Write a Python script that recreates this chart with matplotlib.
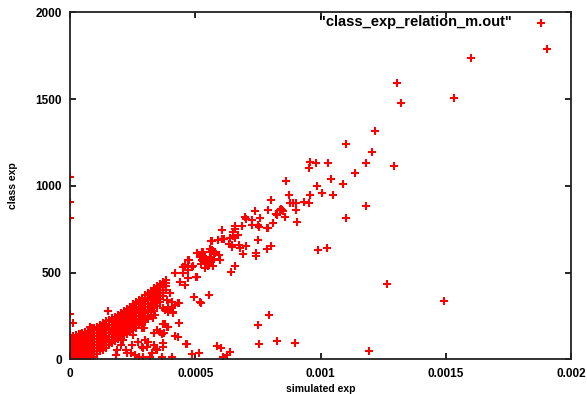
import matplotlib
matplotlib.use('Agg')
import matplotlib.pyplot as plt
import numpy as np

# simulated exp is stored in units of 1e-6
# dense band near the origin, one entry per column: (simulated exp, [class exp ...])
band_columns = [
    (0, [3, 20, 37, 55, 72, 89, 106, 123, 140]),
    (12, [10, 28, 46, 63, 80, 98, 115, 132]),
    (24, [2, 19, 36, 54, 71, 88, 105, 122, 140]),
    (36, [11, 28, 45, 62, 80, 97, 114, 131, 146]),
    (48, [3, 20, 37, 54, 72, 89, 106, 123, 140, 150]),
    (60, [10, 27, 45, 62, 79, 96, 114, 131, 148, 158]),
    (72, [2, 19, 36, 54, 71, 88, 105, 122, 140, 157, 165]),
    (84, [9, 26, 43, 61, 78, 95, 112, 130, 147, 164, 172]),
    (96, [16, 33, 50, 68, 85, 102, 119, 137, 154, 171, 180]),
    (108, [30, 47, 64, 81, 99, 116, 133, 150, 168, 186]),
    (120, [45, 62, 79, 96, 114, 131, 148, 165, 183, 198]),
    (132, [55, 72, 89, 107, 124, 141, 158, 176, 193, 208]),
    (144, [66, 83, 100, 117, 135, 152, 169, 186, 203, 218]),
    (156, [80, 97, 114, 131, 149, 166, 183, 200, 218, 228]),
    (168, [95, 112, 129, 147, 164, 181, 198, 216, 236]),
    (180, [108, 125, 142, 160, 177, 194, 211, 229, 246]),
    (192, [118, 135, 152, 170, 187, 204, 221, 239, 256]),
    (204, [128, 145, 163, 180, 197, 214, 232, 249, 268]),
    (216, [138, 155, 172, 190, 207, 224, 241, 259, 280]),
    (228, [148, 165, 183, 200, 217, 234, 252, 269, 286, 292]),
    (240, [158, 175, 193, 210, 227, 244, 262, 279, 296, 304]),
    (252, [170, 187, 204, 222, 239, 256, 273, 291, 308, 316]),
    (264, [182, 199, 216, 234, 251, 268, 285, 303, 320, 328]),
    (276, [195, 212, 229, 247, 264, 281, 298, 316, 333, 342]),
    (288, [205, 222, 240, 257, 274, 291, 309, 326, 343, 356]),
    (300, [215, 232, 250, 267, 284, 301, 319, 336, 353, 368]),
    (312, [235, 252, 270, 287, 304, 321, 339, 356, 373, 382]),
    (324, [255, 272, 290, 307, 324, 341, 359, 376, 393]),
    (336, [280, 297, 315, 332, 349, 366, 384, 401, 412]),
    (348, [305, 322, 340, 357, 374, 391, 409, 425]),
    (360, [330, 347, 365, 382, 399, 416, 433]),
    (372, [362, 380, 397, 414, 431, 448]),
    (384, [402, 420, 437, 455]),
]

# scattered points away from the dense band: (simulated exp, class exp)
scatter_points = [
    (1906, 1790), (1601, 1734), (1307, 1590), (1532, 1507), (1321, 1475),
    (1216, 1315), (1103, 1242), (1206, 1196), (1183, 1131), (1293, 1117),
    (959, 1138), (981, 1132), (953, 1102), (1030, 1129), (1139, 1071),
    (1042, 1042), (987, 998), (1091, 1008), (959, 946), (1006, 956),
    (1051, 948), (876, 947), (861, 1027), (879, 902), (890, 902),
    (904, 902), (934, 904), (955, 902), (902, 858), (1183, 881),
    (907, 794), (1103, 813), (991, 629), (1026, 644), (1267, 433),
    (1492, 335), (898, 96), (1195, 50), (845, 863), (851, 855),
    (857, 823), (838, 860), (822, 837), (801, 917), (842, 869),
    (740, 855), (790, 861), (826, 832), (697, 823), (701, 811),
    (757, 813), (727, 802), (812, 788), (659, 771), (688, 771),
    (725, 773), (749, 773), (754, 760), (785, 756), (607, 744),
    (657, 750), (649, 734), (789, 754), (669, 719), (660, 702),
    (652, 713), (639, 698), (608, 695), (592, 690), (616, 692),
    (568, 679), (564, 684), (750, 685), (636, 667), (647, 660),
    (676, 660), (645, 650), (703, 652), (680, 642), (804, 652),
    (786, 634), (559, 638), (567, 629), (570, 625), (526, 621),
    (530, 598), (580, 613), (692, 607), (741, 613), (744, 594),
    (559, 581), (573, 578), (597, 571), (551, 565), (559, 557),
    (529, 565), (549, 536), (540, 529), (659, 540), (643, 502),
    (508, 612), (528, 608), (557, 621), (579, 616), (520, 592),
    (563, 590), (593, 603), (539, 573), (568, 573), (553, 546),
    (569, 538), (524, 550), (476, 573), (459, 542), (491, 538),
    (472, 515), (452, 496), (419, 496), (439, 448), (459, 429),
    (472, 467), (452, 534), (472, 573), (486, 534), (506, 477),
    (519, 602), (532, 621), (526, 573), (502, 476), (496, 361),
    (555, 371), (524, 327), (519, 332), (399, 381), (386, 342),
    (359, 332), (406, 332), (419, 313), (433, 323), (392, 304),
    (372, 294), (399, 284), (413, 275), (436, 323), (408, 304),
    (392, 275), (412, 265), (379, 284), (339, 256), (313, 246),
    (333, 237), (293, 227), (286, 179), (437, 211), (379, 203),
    (386, 184), (349, 169), (335, 150), (375, 150), (430, 131),
    (299, 111), (370, 96), (373, 73), (466, 91), (335, 81),
    (342, 62), (286, 73), (586, 77), (603, 63), (516, 38),
    (486, 29), (639, 42), (626, 25), (612, 12), (406, 12),
    (366, 12), (319, 15), (796, 254), (752, 200), (825, 104),
    (755, 88), (463, 88), (153, 279), (13, 211), (80, 188),
    (87, 179), (40, 145), (0, 1052), (0, 907), (0, 815), (0, 260),
    (204, 83), (224, 54), (184, 25), (243, 35), (270, 102),
    (290, 63), (277, 15), (250, 140), (297, 179), (372, 204),
    (392, 188), (368, 146), (419, 136), (359, 159), (306, 73),
    (326, 35), (346, 54), (293, 15), (313, 102), (213, 111),
    (246, 83), (226, 35), (259, 25), (186, 54),
]

x_ticks = [0, 0.0005, 0.001, 0.0015, 0.002]
x_tick_labels = ['0', '0.0005', '0.001', '0.0015', '0.002']
y_ticks = [0, 500, 1000, 1500, 2000]
y_tick_labels = ['0', '500', '1000', '1500', '2000']
key_title = '"class_exp_relation_m.out"'

band_x = [c[0] for c in band_columns for _ in c[1]]
band_y = [y for c in band_columns for y in c[1]]
sim_exp = np.array(band_x + [p[0] for p in scatter_points]) * 1e-6
class_exp = np.array(band_y + [p[1] for p in scatter_points])

plt.rcParams['font.family'] = ['Liberation Sans', 'DejaVu Sans']

fig = plt.figure(figsize=(5.87, 3.94), dpi=100)
ax = fig.add_axes([70 / 587, 1 - 359.3 / 394, 501 / 587, 347 / 394])

ax.plot(sim_exp, class_exp, '+', color='#ff0000', markersize=5.2, mew=1.5)

# gnuplot-style key: title then a sample marker, top right inside the frame
ax.text(0.882, 0.971, key_title, transform=ax.transAxes, ha='right', va='center',
        fontsize=10.5, fontweight='bold')
ax.plot([0.9395], [0.969], '+', color='#ff0000', markersize=5.2, mew=1.5,
        transform=ax.transAxes)

ax.set_xlim(0, 0.002)
ax.set_ylim(0, 2000)
ax.set_xticks(x_ticks)
ax.set_xticklabels(x_tick_labels)
ax.set_yticks(y_ticks)
ax.set_yticklabels(y_tick_labels)
ax.tick_params(direction='in', top=True, right=True, length=4, width=1.2,
               labelsize=8.5, pad=6)
for lab in ax.get_xticklabels() + ax.get_yticklabels():
    lab.set_fontweight('bold')
for s in ax.spines.values():
    s.set_linewidth(1.3)
    s.set_color('#222222')

ax.set_xlabel('simulated exp', fontsize=7.5, fontweight='bold', labelpad=3)
ax.set_ylabel('class exp', fontsize=7.5, fontweight='bold', labelpad=12)

fig.savefig('out.png', dpi=100)
